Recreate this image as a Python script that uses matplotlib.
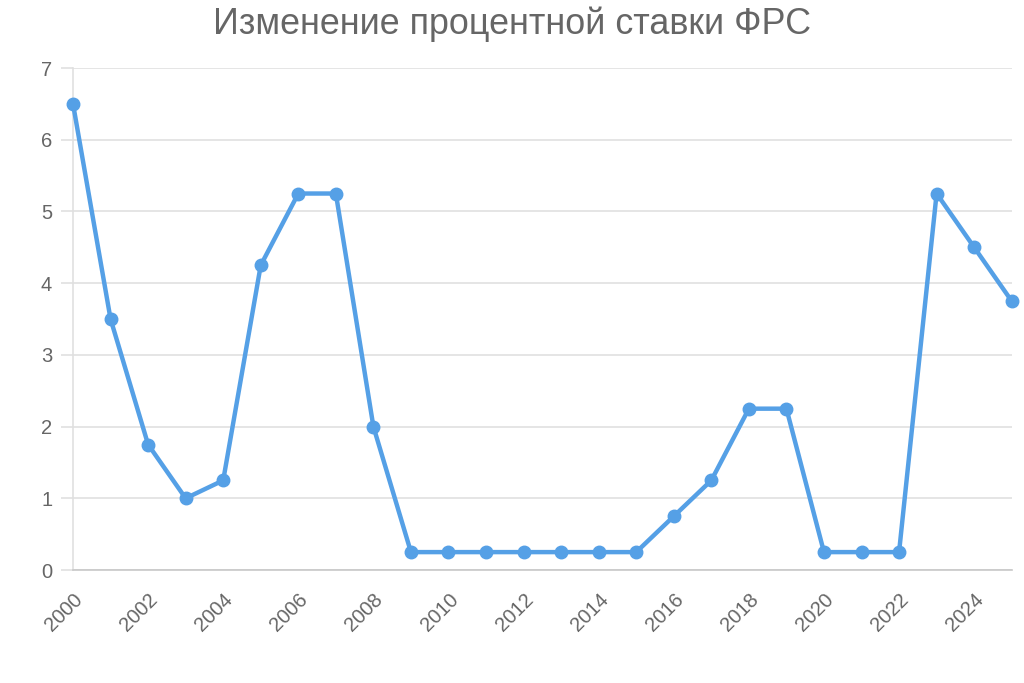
import matplotlib
matplotlib.use('Agg')
import matplotlib.pyplot as plt

plt.rcParams['font.family'] = ['Liberation Sans', 'DejaVu Sans']

years = list(range(2000, 2026))
rates = [6.5, 3.5, 1.75, 1.0, 1.25, 4.25, 5.25, 5.25, 2.0,
         0.25, 0.25, 0.25, 0.25, 0.25, 0.25, 0.25,
         0.75, 1.25, 2.25, 2.25, 0.25, 0.25, 0.25, 5.25, 4.5, 3.75]
x_ticks = list(range(2000, 2026, 2))
y_ticks = list(range(0, 8))

grey = '#666666'
grid = '#e0e0e0'
blue = '#55a0e6'

fig = plt.figure(figsize=(10.24, 6.83), dpi=100)
ax = fig.add_axes([0.0713, 0.1654, 0.9167, 0.735])

ax.plot(years, rates, color=blue, linewidth=3.2, marker='o', markersize=9,
        solid_joinstyle='round', zorder=3, clip_on=False)

ax.set_xlim(2000, 2025)
ax.set_ylim(0, 7)
ax.set_xticks(x_ticks)
ax.set_yticks(y_ticks)
ax.set_xticklabels([str(y) for y in x_ticks], rotation=45, ha='right',
                   rotation_mode='anchor', color=grey, fontsize=14.5)
ax.set_yticklabels([str(v) for v in y_ticks], color=grey, fontsize=14.5)

ax.grid(axis='y', color=grid, linewidth=1.2)
ax.tick_params(axis='y', length=9, color=grid, width=1.2, pad=6)
ax.tick_params(axis='x', length=0, pad=14)

for s in ['top', 'right']:
    ax.spines[s].set_visible(False)
ax.spines['left'].set_color(grid)
ax.spines['left'].set_linewidth(1.2)
ax.spines['bottom'].set_color('#c8c8c8')
ax.spines['bottom'].set_linewidth(1.2)

fig.suptitle('Изменение процентной ставки ФРС', y=0.99, color=grey, fontsize=25.8)

fig.savefig('out.png', dpi=100)
